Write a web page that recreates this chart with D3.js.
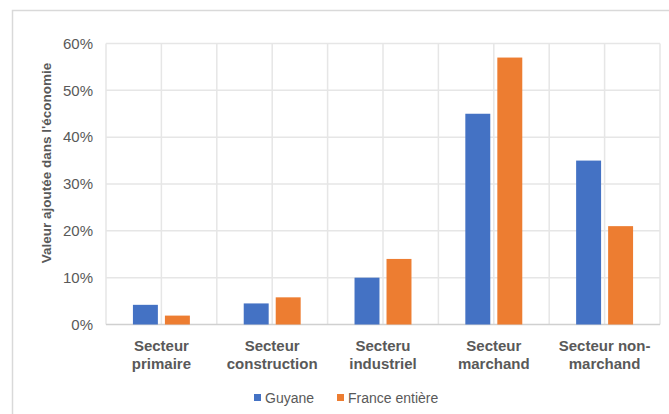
<!DOCTYPE html>
<html>
<head>
<meta charset="utf-8">
<script src="https://cdn.jsdelivr.net/npm/d3@7"></script>
<style>
  body { margin: 0; background: #fff; }
  text { font-family: "Liberation Sans", Arial, sans-serif; }
</style>
</head>
<body>
<svg id="chart" width="669" height="414"></svg>
<script>
// data
const categories = [
  ["Secteur", "primaire"],
  ["Secteur", "construction"],
  ["Secteru", "industriel"],
  ["Secteur", "marchand"],
  ["Secteur non-", "marchand"]
];
const seriesNames = ["Guyane", "France entière"];
const guyane = [0.042, 0.045, 0.10, 0.45, 0.35];
const france = [0.019, 0.058, 0.14, 0.57, 0.21];
const yTicks = [0, 0.1, 0.2, 0.3, 0.4, 0.5, 0.6];
const colors = ["#4472C4", "#ED7D31"];

const svg = d3.select("#chart");
const catIdx = categories.map((d, i) => i);

// outer frame (only top + left edges visible in the shot)
svg.append("rect")
  .attr("x", 12.5).attr("y", 10.5)
  .attr("width", 720).attr("height", 520)
  .attr("fill", "none")
  .attr("stroke", "#d9d9d9")
  .attr("stroke-width", 1.5);

const x0 = d3.scaleBand().domain(catIdx).range([106, 660]).padding(0);
const y = d3.scaleLinear().domain([0, 0.6]).range([324.5, 43.5]);
const bw = x0.bandwidth();

// bars inside a group: 25px bars, ~7px gap
const half = bw * 0.257;
const x1 = d3.scaleBand().domain(seriesNames).range([-half, half]).paddingInner(0.22);

// horizontal grid
svg.append("g")
  .selectAll("line")
  .data(yTicks.filter(t => t > 0))
  .join("line")
  .attr("x1", 106).attr("x2", 660)
  .attr("y1", d => y(d)).attr("y2", d => y(d))
  .attr("stroke", "#e6e6e6")
  .attr("stroke-width", 1.5);

// vertical grid: category edges and centres
const vx = [];
catIdx.forEach(i => { vx.push(x0(i)); vx.push(x0(i) + bw / 2); });
vx.push(660);
svg.append("g")
  .selectAll("line")
  .data(vx)
  .join("line")
  .attr("x1", d => d).attr("x2", d => d)
  .attr("y1", y(0.6)).attr("y2", y(0))
  .attr("stroke", "#e6e6e6")
  .attr("stroke-width", 1.5);

// baseline
svg.append("line")
  .attr("x1", 106).attr("x2", 660)
  .attr("y1", y(0)).attr("y2", y(0))
  .attr("stroke", "#d0d0d0")
  .attr("stroke-width", 1.5);

// bars
const rows = catIdx.map(i => ({ i, vals: [guyane[i], france[i]] }));
const grp = svg.append("g").selectAll("g")
  .data(rows)
  .join("g")
  .attr("transform", d => `translate(${x0(d.i) + bw / 2},0)`);

grp.selectAll("rect")
  .data(d => d.vals.map((v, k) => ({ k, v })))
  .join("rect")
  .attr("x", d => x1(seriesNames[d.k]))
  .attr("width", x1.bandwidth())
  .attr("y", d => y(d.v))
  .attr("height", d => y(0) - y(d.v))
  .attr("fill", d => colors[d.k]);

// y tick labels
const fmt = d3.format(".0%");
svg.append("g")
  .selectAll("text")
  .data(yTicks)
  .join("text")
  .attr("x", 93)
  .attr("y", d => y(d))
  .attr("dy", "0.35em")
  .attr("text-anchor", "end")
  .attr("fill", "#595959")
  .style("font-size", "15px")
  .text(d => fmt(d));

// y axis title
svg.append("text")
  .attr("transform", "translate(51,163) rotate(-90)")
  .attr("text-anchor", "middle")
  .attr("fill", "#595959")
  .style("font-size", "13.5px")
  .style("font-weight", "bold")
  .text("Valeur ajoutée dans l'économie");

// category labels
const lab = svg.append("g")
  .selectAll("text")
  .data(rows)
  .join("text")
  .attr("text-anchor", "middle")
  .attr("fill", "#595959")
  .style("font-size", "15px")
  .style("font-weight", "bold");
lab.selectAll("tspan")
  .data(d => categories[d.i].map(s => ({ s, i: d.i })))
  .join("tspan")
  .attr("x", d => x0(d.i) + bw / 2)
  .attr("y", (d, k) => 351 + k * 18)
  .text(d => d.s);

// legend
const legendX = [254, 337];
const leg = svg.append("g")
  .selectAll("g")
  .data(seriesNames)
  .join("g")
  .attr("transform", (d, k) => `translate(${legendX[k]},398)`);
leg.append("rect")
  .attr("x", 0).attr("y", -4)
  .attr("width", 7).attr("height", 7)
  .attr("fill", (d, k) => colors[k]);
leg.append("text")
  .attr("x", 11)
  .attr("dy", "0.35em")
  .attr("fill", "#595959")
  .style("font-size", "14px")
  .text(d => d);
</script>
</body>
</html>
